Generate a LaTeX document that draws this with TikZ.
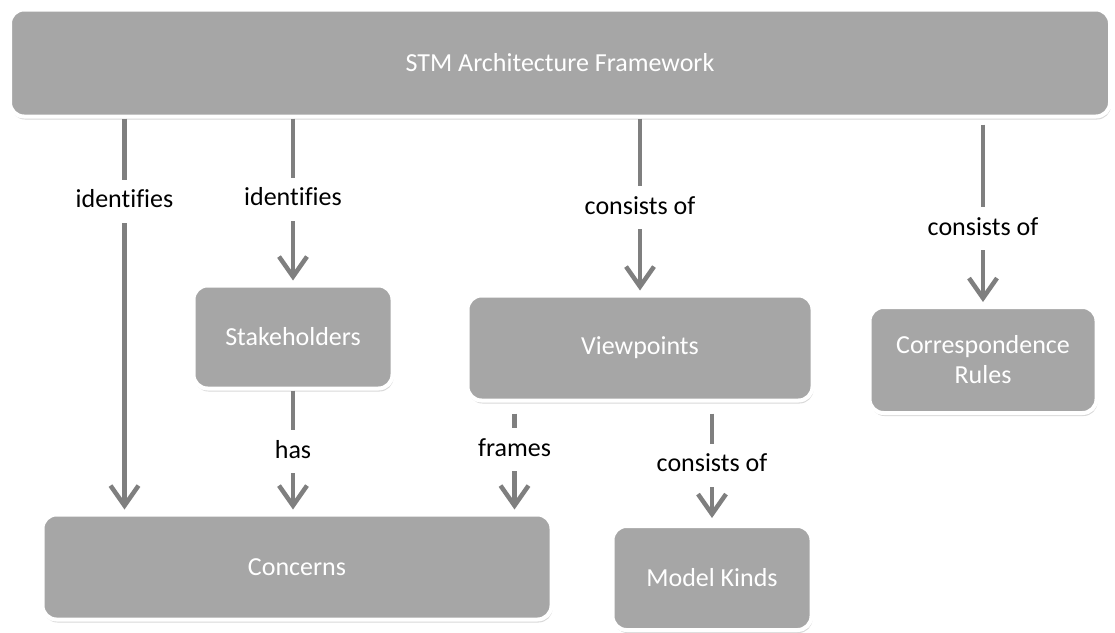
\documentclass[tikz,border=0pt]{standalone}
\usepackage{fontspec}
\setmainfont{Carlito}[Ligatures=NoCommon]
\usetikzlibrary{arrows.meta,shadows}

\definecolor{boxgray}{HTML}{A6A6A6}
\definecolor{linegray}{HTML}{7F7F7F}

\begin{document}
\begin{tikzpicture}[x=1pt,y=-1pt,
  box/.style={rectangle,rounded corners=14pt,fill=boxgray,draw=white,line width=4pt,
    text=white,font=\fontsize{26}{30}\selectfont,align=center,inner sep=0pt,
    drop shadow={opacity=0.3,shadow xshift=1pt,shadow yshift=-3pt}},
  link/.style={draw=linegray,line width=4.5pt,-{Straight Barb[length=20pt,width=28pt]},shorten >=3pt},
  late/.style={shorten <=11pt},
  lbl/.style={fill=white,text=black,font=\fontsize{26}{30}\selectfont,
    inner xsep=3pt,inner ysep=10pt,text height=18pt,text depth=5pt}]

\useasboundingbox (0,0) rectangle (1115,632);

\node[box,minimum width=1100pt,minimum height=107pt] (stm)   at (560,63)  {STM Architecture Framework};
\node[box,minimum width=199pt,minimum height=103pt]  (stake) at (293,337) {Stakeholders};
\node[box,minimum width=345pt,minimum height=105pt]  (view)  at (640,348) {Viewpoints};
\node[box,minimum width=227pt,minimum height=106pt]  (corr)  at (983,360) {Correspondence\\Rules};
\node[box,minimum width=509pt,minimum height=105pt]  (conc)  at (297,567) {Concerns};
\node[box,minimum width=199pt,minimum height=104pt]  (model) at (712,578) {Model Kinds};

\coordinate (a1) at ([xshift=84pt]conc.north west);
\coordinate (a6) at ([xshift=-39pt]conc.north east);
\coordinate (a7) at ([yshift=3pt]model.north);

\path (stm.south -| a1) edge[link] node[lbl,pos=.21]{identifies} (a1)
	(stm.south -| stake.north) edge[link] node[lbl,pos=.49]{identifies} (stake.north)
	(stm.south -| view.north) edge[link] node[lbl,pos=.51]{consists of} (view.north)
	(stm.south -| corr.north) edge[link,shorten <=6pt] node[lbl,pos=.59]{consists of} (corr.north)
	(stake.south) edge[link] node[lbl]{has} (stake.south |- conc.north)
	(view.south -| a6) edge[link,late] node[lbl,pos=.43]{frames} (a6)
	(view.south -| a7) edge[link,late] node[lbl,pos=.53]{consists of} (a7);

\end{tikzpicture}
\end{document}
